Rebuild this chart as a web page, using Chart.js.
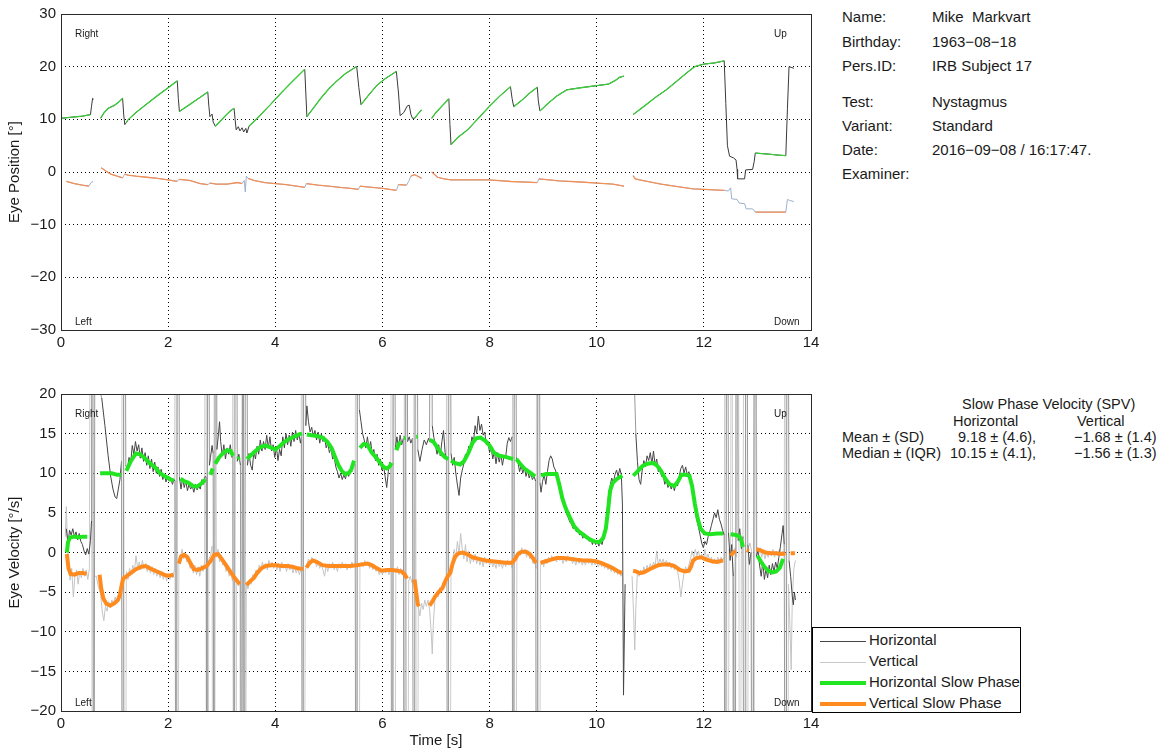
<!DOCTYPE html>
<html>
<head>
<meta charset="utf-8">
<title>Nystagmus – Eye Position and Eye Velocity</title>
<script src="https://cdn.jsdelivr.net/npm/chart.js@4.4.1/dist/chart.umd.min.js"></script>
<style>
  html, body { margin: 0; padding: 0; background: #fff; }
  body { position: relative; width: 1165px; height: 751px; overflow: hidden;
         font-family: "Liberation Sans", Arial, sans-serif; color: #1a1a1a; }
  canvas { position: absolute; left: 0; }
  .info { position: absolute; font-size: 15px; line-height: 18px; white-space: nowrap; }
  .spv { position: absolute; font-size: 14.5px; line-height: 16px; white-space: nowrap; }
  .legend { position: absolute; left: 812px; top: 627px; width: 209px; height: 86px;
            border: 1px solid #000; background: #fff; font-size: 15px; box-sizing: border-box; }
  .legend .row { position: absolute; left: 7px; height: 21px; line-height: 21px; white-space: nowrap; }
  .legend .swatch { display: inline-block; width: 46px; vertical-align: middle; margin-right: 3px; }
</style>
</head>
<body>
<canvas id="posChart" width="830" height="360" style="top:0"></canvas>
<canvas id="velChart" width="830" height="379" style="top:372px"></canvas>

<div class="info" style="left:842px;top:8px">Name:</div>
<div class="info" style="left:932px;top:8px">Mike&nbsp; Markvart</div>
<div class="info" style="left:842px;top:33px">Birthday:</div>
<div class="info" style="left:932px;top:33px">1963−08−18</div>
<div class="info" style="left:842px;top:57px">Pers.ID:</div>
<div class="info" style="left:932px;top:57px">IRB Subject 17</div>
<div class="info" style="left:842px;top:93px">Test:</div>
<div class="info" style="left:932px;top:93px">Nystagmus</div>
<div class="info" style="left:842px;top:117px">Variant:</div>
<div class="info" style="left:932px;top:117px">Standard</div>
<div class="info" style="left:842px;top:141px">Date:</div>
<div class="info" style="left:932px;top:141px">2016−09−08 / 16:17:47.</div>
<div class="info" style="left:842px;top:165px">Examiner:</div>

<div class="spv" style="left:962px;top:396px">Slow Phase Velocity (SPV)</div>
<div class="spv" style="left:953px;top:413px">Horizontal</div>
<div class="spv" style="left:1077px;top:413px">Vertical</div>
<div class="spv" style="left:842px;top:429px">Mean ± (SD)</div>
<div class="spv" style="left:958px;top:429px">9.18 ± (4.6),</div>
<div class="spv" style="left:1074px;top:429px">−1.68 ± (1.4)</div>
<div class="spv" style="left:842px;top:445px">Median ± (IQR)</div>
<div class="spv" style="left:950px;top:445px">10.15 ± (4.1),</div>
<div class="spv" style="left:1074px;top:445px">−1.56 ± (1.3)</div>

<div class="legend">
  <div class="row" style="top:1px"><span class="swatch" style="border-top:1px solid #444"></span>Horizontal</div>
  <div class="row" style="top:22px"><span class="swatch" style="border-top:1px solid #c8c8c8"></span>Vertical</div>
  <div class="row" style="top:43px"><span class="swatch" style="border-top:4px solid #22e522"></span>Horizontal Slow Phase</div>
  <div class="row" style="top:64px"><span class="swatch" style="border-top:4px solid #ff8a1e"></span>Vertical Slow Phase</div>
</div>

<script>
// ---- axis ticks -------------------------------------------------------------
const timeTicks = [0, 2, 4, 6, 8, 10, 12, 14];
const positionTicks = [-30, -20, -10, 0, 10, 20, 30];
const velocityTicks = [-20, -15, -10, -5, 0, 5, 10, 15, 20];

// ---- eye position [deg], pairs of [time s, value]; null = recording gap ----
const posHorizontal = [
  [0.00,10.2],[0.20,10.4],[0.40,10.6],[0.55,10.9],[0.57,12.5],[0.59,14.0],[0.61,13.8], null,
  [0.74,10.2],[0.80,11.2],[0.88,12.1],[0.99,12.6],[1.08,13.3],[1.15,14.0],[1.17,11.0],[1.19,9.0],
  [1.22,9.4],[1.25,9.9],[1.40,11.3],[1.60,12.9],[1.80,14.5],[2.00,16.0],[2.17,17.3],[2.19,14.0],
  [2.21,11.5],[2.40,12.8],[2.60,14.2],[2.74,15.2],[2.76,12.5],[2.78,10.5],[2.82,11.0],[2.84,9.5],
  [2.88,8.7],[2.95,9.4],[3.05,10.5],[3.15,11.5],[3.23,12.1],[3.25,10.0],[3.27,8.0],[3.31,8.6],
  [3.34,7.8],[3.38,8.4],[3.41,7.6],[3.45,8.3],[3.47,7.4],[3.51,8.7],[3.70,10.6],[3.90,12.7],
  [4.10,14.9],[4.30,17.0],[4.55,19.5],[4.57,15.0],[4.59,10.5],[4.70,12.0],[4.85,14.0],[5.00,15.8],
  [5.15,17.3],[5.30,18.6],[5.45,19.6],[5.52,20.0],[5.56,16.0],[5.60,12.8],[5.75,14.7],[5.90,16.5],
  [6.05,17.7],[6.20,18.7],[6.26,19.1],[6.30,15.0],[6.33,10.7],[6.40,11.3],[6.46,12.5],[6.50,12.7],
  [6.53,11.0],[6.56,10.2],[6.60,10.2],[6.66,11.0],[6.73,11.8], null,
  [6.92,10.2],[7.00,11.3],[7.10,12.4],[7.24,13.9],[7.26,9.0],[7.28,5.2],[7.40,6.5],[7.59,8.0],
  [7.80,10.3],[7.99,12.4],[8.20,14.5],[8.39,16.2],[8.42,14.0],[8.45,12.4],[8.60,13.6],[8.75,15.0],
  [8.89,16.1],[8.91,13.5],[8.94,11.6],[9.10,13.1],[9.25,14.4],[9.44,15.6],[9.70,16.0],[10.00,16.4],
  [10.22,16.7],[10.35,17.4],[10.43,18.0],[10.51,18.2], null,
  [10.68,10.9],[10.90,12.6],[11.10,14.2],[11.30,15.6],[11.50,17.3],[11.70,19.0],[11.83,20.0],
  [12.00,20.5],[12.20,20.7],[12.38,21.1],[12.41,13.0],[12.44,5.0],[12.48,3.0],[12.55,2.7],[12.60,2.3],
  [12.62,0.5],[12.63,-1.3],[12.76,-1.3],[12.78,0.4],[12.91,0.5],[12.94,2.0],[12.96,3.6],[13.20,3.4],
  [13.40,3.2],[13.53,3.1],[13.56,12.0],[13.59,20.0],[13.68,19.7]
];
const posHorizontalSlow = [
  [0.00,10.2],[0.20,10.4],[0.40,10.6],[0.55,10.9], null,
  [0.74,10.2],[0.80,11.2],[0.88,12.1],[0.99,12.6],[1.08,13.3],[1.15,14.0], null,
  [1.22,9.4],[1.25,9.9],[1.40,11.3],[1.60,12.9],[1.80,14.5],[2.00,16.0],[2.17,17.3], null,
  [2.21,11.5],[2.40,12.8],[2.60,14.2],[2.74,15.2], null,
  [2.88,8.7],[2.95,9.4],[3.05,10.5],[3.15,11.5],[3.23,12.1], null,
  [3.51,8.7],[3.70,10.6],[3.90,12.7],[4.10,14.9],[4.30,17.0],[4.55,19.5], null,
  [4.59,10.5],[4.70,12.0],[4.85,14.0],[5.00,15.8],[5.15,17.3],[5.30,18.6],[5.45,19.6],[5.52,20.0], null,
  [5.60,12.8],[5.75,14.7],[5.90,16.5],[6.05,17.7],[6.20,18.7],[6.26,19.1], null,
  [6.60,10.2],[6.66,11.0],[6.73,11.8], null,
  [6.92,10.2],[7.00,11.3],[7.10,12.4],[7.24,13.9], null,
  [7.28,5.2],[7.40,6.5],[7.59,8.0],[7.80,10.3],[7.99,12.4],[8.20,14.5],[8.39,16.2], null,
  [8.45,12.4],[8.60,13.6],[8.75,15.0],[8.89,16.1], null,
  [8.94,11.6],[9.10,13.1],[9.25,14.4],[9.44,15.6],[9.70,16.0],[10.00,16.4],[10.22,16.7],[10.35,17.4],
  [10.43,18.0],[10.51,18.2], null,
  [10.68,10.9],[10.90,12.6],[11.10,14.2],[11.30,15.6],[11.50,17.3],[11.70,19.0],[11.83,20.0],
  [12.00,20.5],[12.20,20.7],[12.38,21.1], null,
  [12.96,3.6],[13.20,3.4],[13.40,3.2],[13.53,3.1]
];
const posVertical = [
  [0.10,-1.8],[0.25,-2.2],[0.40,-2.5],[0.52,-2.7],[0.56,-2.0],[0.60,-1.8], null,
  [0.75,0.8],[0.85,0.1],[0.93,-0.4],[1.05,-0.8],[1.15,-1.1],[1.19,-0.4],[1.25,-0.6],[1.40,-0.8],
  [1.60,-1.0],[1.80,-1.2],[2.00,-1.5],[2.17,-1.8],[2.20,-1.4],[2.40,-1.6],[2.60,-2.2],[2.74,-2.4],
  [2.78,-2.1],[2.90,-2.3],[3.10,-2.3],[3.30,-2.0],[3.38,-2.2],[3.42,-1.6],[3.44,-3.8],[3.46,-0.8],
  [3.49,-1.2],[3.60,-1.6],[3.80,-2.0],[4.00,-2.2],[4.20,-2.4],[4.40,-2.7],[4.55,-2.9],[4.58,-2.2],
  [4.80,-2.5],[5.00,-2.7],[5.20,-2.9],[5.40,-3.1],[5.55,-3.3],[5.58,-2.7],[5.80,-2.9],[6.00,-3.1],
  [6.20,-3.4],[6.26,-3.5],[6.30,-2.4],[6.45,-2.5],[6.49,-1.8],[6.53,-0.8],[6.60,-0.5],[6.66,-0.8],
  [6.73,-1.2], null,
  [6.92,0.0],[7.03,-1.0],[7.15,-1.3],[7.28,-1.5],[7.60,-1.5],[7.99,-1.5],[8.40,-1.8],[8.89,-2.0],
  [8.92,-1.3],[9.30,-1.7],[9.70,-1.9],[10.00,-2.1],[10.30,-2.3],[10.51,-2.7], null,
  [10.68,-0.7],[10.72,-1.3],[10.80,-1.5],[11.20,-2.3],[11.60,-2.9],[11.80,-3.2],[12.00,-3.3],
  [12.38,-3.5],[12.46,-3.6],[12.50,-3.0],[12.52,-5.1],[12.62,-5.2],[12.66,-5.9],[12.76,-6.0],
  [12.79,-7.0],[12.91,-7.0],[12.96,-7.6],[13.53,-7.6],[13.56,-5.2],[13.60,-5.4],[13.68,-5.6]
];
const posVerticalSlow = [
  [0.10,-1.8],[0.25,-2.2],[0.40,-2.5],[0.52,-2.7], null,
  [0.75,0.8],[0.85,0.1],[0.93,-0.4],[1.05,-0.8],[1.15,-1.1], null,
  [1.19,-0.4],[1.25,-0.6],[1.40,-0.8],[1.60,-1.0],[1.80,-1.2],[2.00,-1.5],[2.17,-1.8], null,
  [2.20,-1.4],[2.40,-1.6],[2.60,-2.2],[2.74,-2.4], null,
  [2.78,-2.1],[2.90,-2.3],[3.10,-2.3],[3.30,-2.0],[3.38,-2.2], null,
  [3.49,-1.2],[3.60,-1.6],[3.80,-2.0],[4.00,-2.2],[4.20,-2.4],[4.40,-2.7],[4.55,-2.9], null,
  [4.58,-2.2],[4.80,-2.5],[5.00,-2.7],[5.20,-2.9],[5.40,-3.1],[5.55,-3.3], null,
  [5.58,-2.7],[5.80,-2.9],[6.00,-3.1],[6.20,-3.4],[6.26,-3.5], null,
  [6.30,-2.4],[6.45,-2.5], null,
  [6.53,-0.8],[6.60,-0.5],[6.66,-0.8],[6.73,-1.2], null,
  [6.92,0.0],[7.03,-1.0],[7.15,-1.3],[7.28,-1.5],[7.60,-1.5],[7.99,-1.5],[8.40,-1.8],[8.89,-2.0], null,
  [8.92,-1.3],[9.30,-1.7],[9.70,-1.9],[10.00,-2.1],[10.30,-2.3],[10.51,-2.7], null,
  [10.68,-0.7],[10.72,-1.3],[10.80,-1.5],[11.20,-2.3],[11.60,-2.9],[11.80,-3.2],[12.00,-3.3],[12.38,-3.5], null,
  [12.96,-7.6],[13.53,-7.6]
];

// ---- eye velocity [deg/s] ---------------------------------------------------
const velHorizontal = [
  [0.10,3.0],[0.13,1.2],[0.16,2.8],[0.19,2.2],[0.22,3.0],[0.25,2.0],[0.28,2.6],[0.31,1.6],
  [0.34,2.4],[0.37,1.4],[0.40,1.0],[0.43,0.2],[0.46,-0.3],[0.49,0.5],[0.52,-0.2],[0.55,1.5],
  [0.57,4.0],[0.59,80],[0.61,-80],[0.63,22],[0.70,21],[0.76,19.5],[0.82,16],[0.88,12.2],
  [0.93,9.5],[0.97,8.0],[1.01,7.0],[1.04,6.8],[1.07,8.0],[1.10,9.2],[1.13,11.5],[1.15,-80],
  [1.18,80],[1.21,11],[1.24,10.5],[1.27,12.0],[1.30,11.2],[1.33,13.5],[1.36,12.4],[1.39,14.0],
  [1.42,12.8],[1.45,13.6],[1.48,11.9],[1.51,13.2],[1.54,11.5],[1.57,12.6],[1.60,11.0],[1.63,12.2],
  [1.66,10.6],[1.69,11.8],[1.72,10.2],[1.75,11.4],[1.78,10.0],[1.81,10.8],[1.84,9.6],[1.87,10.5],
  [1.90,9.2],[1.93,9.9],[1.96,8.9],[1.99,9.6],[2.02,9.0],[2.05,9.4],[2.08,8.6],[2.11,9.2],
  [2.13,9.0],[2.15,-80],[2.18,80],[2.21,9.5],[2.24,8.0],[2.27,9.4],[2.30,8.2],[2.33,9.0],
  [2.36,7.8],[2.39,8.6],[2.42,8.0],[2.45,8.4],[2.48,7.6],[2.51,8.6],[2.54,7.9],[2.57,8.4],
  [2.60,8.0],[2.63,9.2],[2.66,8.6],[2.69,9.6],[2.71,9.5],[2.72,-80],[2.745,80],[2.77,11],
  [2.79,12.0],[2.82,13.5],[2.84,12.5],[2.86,-80],[2.885,80],[2.91,13.0],[2.94,15.0],[2.96,16.5],
  [2.98,14.0],[3.01,12.2],[3.04,13.6],[3.07,11.8],[3.10,13.2],[3.13,12.4],[3.16,13.6],[3.19,12.0],
  [3.21,12.5],[3.23,-80],[3.26,80],[3.29,11.5],[3.32,12.4],[3.35,11.0],[3.37,-80],[3.40,80],
  [3.42,-80],[3.45,80],[3.48,11.0],[3.51,12.5],[3.54,11.0],[3.57,10.4],[3.60,12.8],[3.63,11.8],
  [3.66,13.4],[3.69,12.4],[3.72,14.2],[3.75,12.8],[3.78,14.0],[3.81,13.0],[3.84,14.8],[3.87,13.2],
  [3.90,14.6],[3.93,12.8],[3.96,13.6],[3.99,12.0],[4.02,13.4],[4.05,11.6],[4.08,13.0],[4.11,12.2],
  [4.14,14.6],[4.17,13.2],[4.20,15.0],[4.23,13.6],[4.26,14.8],[4.29,13.4],[4.32,15.2],[4.35,14.0],
  [4.38,15.4],[4.41,14.2],[4.44,15.0],[4.47,13.8],[4.49,14.6],[4.51,-80],[4.54,80],[4.57,16.0],
  [4.59,18.5],[4.62,16.5],[4.65,15.2],[4.68,15.8],[4.71,14.6],[4.74,15.4],[4.77,14.2],[4.80,15.2],
  [4.83,13.8],[4.86,15.0],[4.89,14.0],[4.92,14.6],[4.95,13.2],[4.98,13.8],[5.01,12.6],[5.04,13.2],
  [5.07,11.8],[5.10,12.0],[5.13,10.8],[5.16,10.2],[5.19,9.4],[5.22,10.0],[5.25,9.2],[5.28,9.8],
  [5.31,9.3],[5.34,10.2],[5.37,9.6],[5.40,10.4],[5.43,10.2],[5.46,11.5],[5.49,11.0],[5.51,-80],
  [5.545,80],[5.57,18.0],[5.60,16.5],[5.63,15.0],[5.66,14.2],[5.69,13.2],[5.72,14.6],[5.75,13.0],
  [5.78,14.0],[5.81,12.4],[5.84,13.0],[5.87,11.6],[5.90,12.4],[5.93,11.0],[5.96,11.8],[5.99,10.4],
  [6.02,11.0],[6.05,9.6],[6.08,8.2],[6.11,10.2],[6.14,11.4],[6.16,10.8],[6.18,-80],[6.21,80],
  [6.24,13.0],[6.27,14.6],[6.30,13.2],[6.33,14.8],[6.36,13.6],[6.39,14.4],[6.41,-80],[6.44,80],
  [6.47,14.0],[6.50,14.6],[6.53,13.8],[6.56,14.4],[6.59,-80],[6.62,80],[6.66,13.0],[6.70,11.5],
  [6.74,13.0],[6.78,14.2],[6.82,13.6],[6.86,14.4],[6.88,14.0],[6.90,80],[6.93,16.0],[6.96,14.5],
  [6.99,13.5],[7.02,12.4],[7.05,13.6],[7.08,12.2],[7.11,14.0],[7.14,15.4],[7.17,12.6],[7.20,11.6],
  [7.22,-80],[7.25,80],[7.28,12.5],[7.31,11.0],[7.34,12.0],[7.37,10.0],[7.40,8.5],[7.43,7.2],
  [7.46,9.4],[7.49,10.4],[7.52,11.2],[7.55,12.4],[7.58,12.0],[7.61,13.4],[7.64,13.0],[7.67,14.6],
  [7.70,14.0],[7.73,16.0],[7.76,15.0],[7.79,17.2],[7.82,15.4],[7.85,16.2],[7.88,14.8],[7.91,15.2],
  [7.94,13.6],[7.97,14.0],[8.00,12.6],[8.03,13.2],[8.06,11.8],[8.09,12.8],[8.12,11.2],[8.15,12.6],
  [8.18,11.4],[8.21,12.4],[8.24,11.0],[8.27,12.2],[8.30,12.0],[8.33,13.8],[8.36,14.5],[8.39,14.0],
  [8.42,14.6],[8.44,-80],[8.47,80],[8.50,12.0],[8.53,11.4],[8.56,10.2],[8.59,11.0],[8.62,10.0],
  [8.65,10.8],[8.68,9.6],[8.71,10.4],[8.74,9.4],[8.77,10.0],[8.80,9.2],[8.83,9.6],[8.86,9.0],
  [8.88,-80],[8.91,80],[8.94,8.8],[8.96,7.6],[8.99,9.0],[9.02,9.8],[9.05,8.6],[9.08,10.2],
  [9.11,11.6],[9.14,12.2],[9.17,11.8],[9.20,10.8],[9.23,10.4],[9.26,9.6],[9.29,8.8],[9.32,7.6],
  [9.35,6.6],[9.38,6.0],[9.41,5.6],[9.44,4.8],[9.47,4.4],[9.50,3.8],[9.53,3.6],[9.56,3.0],
  [9.59,3.2],[9.62,2.6],[9.65,2.9],[9.68,2.2],[9.71,2.6],[9.74,1.8],[9.77,2.4],[9.80,1.8],
  [9.83,2.0],[9.86,1.4],[9.89,1.8],[9.92,1.0],[9.95,1.6],[9.98,1.0],[10.01,1.4],[10.04,0.8],
  [10.07,1.6],[10.10,1.0],[10.13,2.0],[10.16,3.2],[10.19,5.0],[10.22,7.2],[10.25,8.4],[10.28,9.4],
  [10.31,8.8],[10.34,9.8],[10.37,10.4],[10.40,9.6],[10.43,10.6],[10.46,9.8],[10.48,6.0],
  [10.50,-18.0],[10.53,-4.0], null,
  [10.66,40],[10.70,22],[10.73,15.0],[10.76,11.5],[10.79,9.2],[10.82,8.6],[10.85,10.4],[10.88,11.6],
  [10.91,10.8],[10.94,12.2],[10.97,11.6],[11.00,12.6],[11.03,11.2],[11.06,12.8],[11.09,11.0],
  [11.12,11.8],[11.15,10.2],[11.18,10.8],[11.21,9.6],[11.24,9.8],[11.27,8.6],[11.30,9.2],[11.33,8.2],
  [11.36,8.8],[11.39,8.0],[11.42,8.6],[11.45,7.8],[11.48,8.8],[11.51,8.4],[11.54,9.6],[11.57,10.6],
  [11.60,11.0],[11.63,10.0],[11.66,10.8],[11.69,9.8],[11.72,10.2],[11.75,9.4],[11.78,8.2],[11.81,6.4],
  [11.84,5.2],[11.87,4.0],[11.90,3.2],[11.93,2.2],[11.96,1.2],[11.99,0.6],[12.02,1.4],[12.05,1.0],
  [12.08,2.0],[12.11,2.6],[12.14,3.4],[12.17,4.2],[12.20,5.0],[12.23,4.4],[12.26,5.4],[12.29,4.2],
  [12.32,3.6],[12.35,2.8],[12.38,2.2],[12.40,-80],[12.43,80],[12.46,2.5],[12.49,-1.0],[12.52,1.0],
  [12.55,-3.0],[12.58,-80],[12.61,80],[12.64,1.5],[12.67,3.0],[12.70,0.5],[12.73,2.0],[12.76,-80],
  [12.79,80],[12.82,1.0],[12.85,-1.5],[12.88,0.0],[12.91,-80],[12.95,80],[12.98,-0.5],[13.01,0.2],
  [13.04,-1.6],[13.07,-3.0],[13.10,-1.2],[13.13,-3.4],[13.16,-2.0],[13.19,-3.2],[13.22,-1.6],
  [13.25,-2.8],[13.28,-1.4],[13.31,-2.4],[13.34,-1.2],[13.37,-2.0],[13.40,-0.6],[13.43,0.8],
  [13.46,2.4],[13.48,3.4],[13.50,1.0],[13.53,-80],[13.56,80],[13.59,-1.0],[13.62,-3.0],[13.65,-5.5],
  [13.67,-6.6],[13.69,-5.0],[13.71,-6.0]
];
const velVertical = [
  [0.08,2.0],[0.10,5.8],[0.12,1.0],[0.14,-1.5],[0.17,-3.5],[0.20,-2.0],[0.23,-5.6],[0.26,-3.0],
  [0.29,-2.2],[0.32,-4.0],[0.35,-2.4],[0.38,-3.2],[0.41,-2.0],[0.44,-3.0],[0.47,-2.2],[0.50,-3.4],
  [0.53,-2.0],[0.56,80],[0.59,-80],[0.62,-3.0],[0.66,-3.0],[0.70,-4.4],[0.74,-5.2],[0.77,-7.5],
  [0.80,-8.6],[0.83,-6.8],[0.86,-7.4],[0.89,-6.2],[0.92,-7.0],[0.95,-6.0],[0.98,-6.6],[1.01,-5.6],
  [1.04,-6.2],[1.07,-5.2],[1.10,-4.6],[1.13,-3.6],[1.16,80],[1.19,-80],[1.22,-2.4],[1.25,-3.4],
  [1.28,-2.0],[1.31,-2.8],[1.34,-1.6],[1.37,-2.4],[1.40,-0.4],[1.43,-2.0],[1.46,-1.2],[1.49,-2.2],
  [1.52,-1.0],[1.55,-2.0],[1.58,-1.4],[1.61,-2.4],[1.64,-1.6],[1.67,-2.6],[1.70,-1.8],[1.73,-2.8],
  [1.76,-2.0],[1.79,-3.0],[1.82,-2.2],[1.85,-3.2],[1.88,-2.4],[1.91,-3.4],[1.94,-2.6],[1.97,-3.6],
  [2.00,-2.8],[2.03,-3.4],[2.06,-2.6],[2.09,-3.2],[2.12,-2.0],[2.14,80],[2.17,-80],[2.20,-1.5],
  [2.23,-0.6],[2.26,0.4],[2.29,-0.8],[2.32,-0.2],[2.35,-1.2],[2.38,-0.8],[2.41,-2.0],[2.44,-1.4],
  [2.47,-2.6],[2.50,-1.6],[2.53,-2.8],[2.56,-1.8],[2.59,-3.0],[2.62,-1.6],[2.65,-2.4],[2.68,-1.2],
  [2.70,80],[2.73,-80],[2.76,-0.8],[2.79,-0.4],[2.82,0.8],[2.84,-80],[2.87,80],[2.90,-0.6],
  [2.93,0.4],[2.96,-1.2],[2.99,-0.4],[3.02,-1.6],[3.05,-1.0],[3.08,-2.4],[3.11,-1.6],[3.14,-3.0],
  [3.17,-2.2],[3.20,-3.6],[3.22,80],[3.25,-80],[3.28,-3.4],[3.31,-4.2],[3.34,-3.6],[3.36,-80],
  [3.39,80],[3.43,-80],[3.46,-4.0],[3.49,-4.6],[3.52,-3.4],[3.55,-4.0],[3.58,-2.8],[3.61,-3.4],
  [3.64,-2.2],[3.67,-2.8],[3.70,-1.6],[3.73,-2.2],[3.76,-1.2],[3.79,-2.0],[3.82,-1.4],[3.85,-2.2],
  [3.88,-1.0],[3.91,-1.8],[3.94,-1.2],[3.97,-2.0],[4.00,-1.4],[4.03,-2.2],[4.06,-1.4],[4.09,-2.4],
  [4.12,-1.2],[4.15,-2.0],[4.18,-1.6],[4.21,-2.4],[4.24,-1.4],[4.27,-2.2],[4.30,-1.6],[4.33,-2.6],
  [4.36,-1.8],[4.39,-2.6],[4.42,-2.0],[4.45,-2.8],[4.48,-2.0],[4.50,80],[4.53,-80],[4.56,-2.2],
  [4.59,-1.6],[4.62,-0.8],[4.65,-1.4],[4.68,-0.6],[4.71,-1.2],[4.74,-0.8],[4.77,-1.8],[4.80,-1.2],
  [4.83,-2.0],[4.86,-1.4],[4.89,-2.2],[4.92,-3.0],[4.95,-1.6],[4.98,-2.4],[5.01,-1.4],[5.04,-2.0],
  [5.07,-1.2],[5.10,-2.2],[5.13,-1.6],[5.16,-2.4],[5.19,-1.4],[5.22,-2.0],[5.25,-1.2],[5.28,-1.8],
  [5.31,-1.4],[5.34,-2.2],[5.37,-1.6],[5.40,-2.0],[5.43,-1.2],[5.46,-1.8],[5.49,-1.4],[5.51,80],
  [5.55,-80],[5.58,-1.8],[5.61,-1.2],[5.64,-1.8],[5.67,-1.0],[5.70,-1.6],[5.73,-1.2],[5.76,-2.0],
  [5.79,-1.4],[5.82,-2.2],[5.85,-1.6],[5.88,-2.4],[5.91,-2.0],[5.94,-2.8],[5.97,-2.2],[6.00,-2.8],
  [6.03,-2.2],[6.06,-2.6],[6.09,-2.0],[6.12,-2.8],[6.15,-2.2],[6.19,80],[6.22,-80],[6.25,-2.4],
  [6.28,-1.8],[6.31,-2.8],[6.34,-2.0],[6.37,-2.8],[6.40,-2.4],[6.43,80],[6.46,-80],[6.49,-3.6],
  [6.52,-3.0],[6.55,-3.8],[6.58,-3.2],[6.61,80],[6.64,-80],[6.67,-6.8],[6.70,-8.0],[6.73,-6.4],
  [6.76,-7.2],[6.79,-6.0],[6.82,-6.8],[6.85,-6.0],[6.88,-7.2],[6.91,-10.0],[6.93,-12.8],[6.95,-9.0],
  [6.98,-6.0],[7.01,-5.2],[7.04,-5.6],[7.07,-4.4],[7.10,-5.0],[7.13,-3.8],[7.16,-4.2],[7.19,-3.0],
  [7.21,80],[7.25,-80],[7.28,-2.2],[7.31,-1.0],[7.34,0.4],[7.37,-0.6],[7.40,1.4],[7.43,-0.2],
  [7.46,2.4],[7.49,0.4],[7.52,-0.8],[7.55,1.0],[7.58,-1.2],[7.61,0.2],[7.64,-1.4],[7.67,-0.4],
  [7.70,-1.2],[7.73,-0.2],[7.76,-1.4],[7.79,-0.6],[7.82,-1.6],[7.85,-0.8],[7.88,-1.8],[7.91,-0.6],
  [7.94,-1.4],[7.97,-0.8],[8.00,-1.6],[8.03,-1.0],[8.06,-1.8],[8.09,-1.2],[8.12,-2.0],[8.15,-1.0],
  [8.18,-1.8],[8.21,-1.2],[8.24,-2.0],[8.27,-1.2],[8.30,-1.8],[8.33,-1.0],[8.36,-1.6],[8.39,-1.2],
  [8.42,-2.0],[8.45,80],[8.48,-80],[8.51,-0.6],[8.54,0.2],[8.57,-0.4],[8.60,0.6],[8.63,-0.2],
  [8.66,0.4],[8.69,-0.6],[8.72,0.2],[8.75,-0.8],[8.78,-0.4],[8.81,-1.4],[8.84,-1.0],[8.87,-2.0],
  [8.89,80],[8.92,-80],[8.95,-1.6],[8.98,-1.0],[9.01,-1.8],[9.04,-0.8],[9.07,-1.4],[9.10,-0.6],
  [9.13,-1.2],[9.16,-0.4],[9.19,-1.0],[9.22,-0.6],[9.25,-1.2],[9.28,-0.4],[9.31,-1.0],[9.34,-0.6],
  [9.37,-1.4],[9.40,-0.6],[9.43,-1.2],[9.46,-0.4],[9.49,-1.0],[9.52,-0.8],[9.55,-1.4],[9.58,-0.8],
  [9.61,-1.6],[9.64,-0.8],[9.67,-1.4],[9.70,-0.8],[9.73,-1.6],[9.76,-1.0],[9.79,-1.6],[9.82,-0.8],
  [9.85,-1.4],[9.88,-1.0],[9.91,-1.6],[9.94,-1.0],[9.97,-1.6],[10.00,-1.2],[10.03,-1.8],[10.06,-1.2],
  [10.09,-1.8],[10.12,-1.4],[10.15,-2.0],[10.18,-1.4],[10.21,-2.2],[10.24,-1.6],[10.27,-2.4],
  [10.30,-1.8],[10.33,-2.6],[10.36,-2.0],[10.39,-2.8],[10.42,-2.2],[10.45,-3.0],[10.48,-2.6], null,
  [10.66,-3.0],[10.69,-8.0],[10.71,-12.3],[10.73,-7.0],[10.76,-2.4],[10.79,-3.0],[10.82,-2.2],
  [10.85,-2.8],[10.88,-1.8],[10.91,-2.6],[10.94,-1.6],[10.97,-2.4],[11.00,-1.4],[11.03,-2.0],
  [11.06,-1.2],[11.09,-1.8],[11.12,0.2],[11.15,-1.6],[11.18,-0.8],[11.21,-1.4],[11.24,-0.8],
  [11.27,-1.6],[11.30,-1.0],[11.33,-1.8],[11.36,-1.2],[11.39,-2.0],[11.42,-1.4],[11.45,-2.2],
  [11.48,-1.6],[11.51,-2.4],[11.54,-3.6],[11.57,-5.6],[11.60,-4.0],[11.63,-2.6],[11.66,-1.8],
  [11.69,-2.4],[11.72,-1.6],[11.75,-0.8],[11.78,0.2],[11.81,-0.6],[11.84,0.4],[11.87,-0.4],
  [11.90,0.2],[11.93,-0.8],[11.96,-0.2],[11.99,-1.0],[12.02,0.4],[12.05,-0.8],[12.08,-0.2],
  [12.11,-1.2],[12.14,-0.6],[12.17,-1.4],[12.20,-0.8],[12.23,-1.4],[12.26,-0.6],[12.29,-1.2],
  [12.32,-0.6],[12.35,-1.0],[12.38,-0.6],[12.41,80],[12.44,-80],[12.47,0.4],[12.50,-0.4],[12.52,80],
  [12.55,-80],[12.58,0.6],[12.61,-0.6],[12.64,80],[12.67,-80],[12.70,0.2],[12.73,1.0],[12.77,80],
  [12.80,-80],[12.83,0.6],[12.86,1.2],[12.89,0.2],[12.93,-80],[12.96,80],[12.99,0.4],[13.02,-0.4],
  [13.05,0.6],[13.08,-0.6],[13.11,0.2],[13.14,-0.8],[13.17,0.0],[13.20,-0.6],[13.23,0.2],
  [13.26,-0.4],[13.29,0.4],[13.32,-0.6],[13.35,0.2],[13.38,-0.4],[13.41,0.4],[13.44,-0.2],
  [13.47,0.2],[13.50,-0.4],[13.52,80],[13.55,-80],[13.58,-4.0],[13.61,-10.0],[13.63,-14.8],
  [13.65,-6.0],[13.68,-2.0],[13.71,-1.0]
];
const velHorizontalSlow = [
  [0.11,0.0],[0.13,1.3],[0.17,1.9],[0.25,2.0],[0.32,1.9],[0.40,2.0],[0.49,2.0], null,
  [0.73,10.0],[0.85,10.0],[0.95,10.0],[1.05,9.8],[1.12,9.8], null,
  [1.22,10.3],[1.30,11.5],[1.40,12.5],[1.47,12.4],[1.55,12.0],[1.65,11.3],[1.75,10.8],[1.85,10.0],
  [1.95,9.6],[2.05,9.2],[2.11,9.1], null,
  [2.23,9.3],[2.30,9.0],[2.38,8.8],[2.46,8.4],[2.54,8.3],[2.62,8.7],[2.70,9.2], null,
  [2.79,9.8],[2.83,10.6], null,
  [2.88,11.2],[2.95,12.0],[3.02,12.5],[3.10,12.9],[3.17,12.8],[3.21,12.2], null,
  [3.30,11.8],[3.33,12.0], null,
  [3.47,11.8],[3.55,12.3],[3.63,12.8],[3.72,13.3],[3.81,13.5],[3.90,13.3],[4.00,13.0],[4.08,13.4],
  [4.16,13.9],[4.25,14.3],[4.35,14.6],[4.44,14.9],[4.50,15.0], null,
  [4.59,14.9],[4.68,14.8],[4.78,14.7],[4.88,14.5],[4.97,14.0],[5.05,13.2],[5.12,12.0],[5.18,11.0],
  [5.24,10.3],[5.30,9.9],[5.37,10.0],[5.42,10.5],[5.47,11.6], null,
  [5.58,13.2],[5.65,13.7],[5.72,13.6],[5.80,12.6],[5.88,12.0],[5.95,11.4],[6.02,10.8],[6.08,10.6],
  [6.14,10.9],[6.17,11.3], null,
  [6.26,12.9],[6.30,13.6],[6.34,14.0], null,
  [6.40,14.4],[6.43,14.5], null,
  [6.63,14.6],[6.66,14.6], null,
  [6.88,14.2],[6.95,14.0],[7.02,13.3],[7.10,12.5],[7.17,12.0],[7.23,11.8], null,
  [7.28,11.6],[7.35,11.3],[7.45,11.1],[7.52,11.5],[7.60,12.5],[7.68,13.8],[7.75,14.4],[7.83,14.5],
  [7.92,14.1],[8.00,13.5],[8.08,12.6],[8.18,12.2],[8.28,12.1],[8.38,11.9],[8.44,11.8], null,
  [8.50,11.8],[8.57,11.2],[8.65,10.6],[8.75,10.1],[8.85,9.6], null,
  [8.96,9.7],[9.05,9.9],[9.15,9.9],[9.25,9.9],[9.30,8.6],[9.36,6.8],[9.42,5.6],[9.50,4.4],[9.58,3.3],
  [9.66,2.7],[9.76,2.2],[9.86,1.7],[9.95,1.4],[10.05,1.3],[10.12,1.8],[10.17,3.0],[10.21,5.2],
  [10.25,7.8],[10.30,8.8],[10.38,9.3],[10.48,9.7], null,
  [10.68,9.7],[10.76,10.2],[10.85,10.9],[10.95,11.2],[11.05,11.3],[11.12,11.0],[11.20,10.3],
  [11.28,9.3],[11.36,8.6],[11.45,8.4],[11.52,9.0],[11.58,9.8],[11.66,9.8],[11.73,9.7],[11.78,8.4],
  [11.83,6.2],[11.88,4.4],[11.94,3.0],[12.02,2.4],[12.12,2.3],[12.25,2.4],[12.36,2.4], null,
  [12.50,2.3],[12.60,2.2],[12.67,2.0],[12.70,1.5],[12.73,0.7], null,
  [13.00,-0.4],[13.07,-1.2],[13.13,-1.8],[13.20,-2.3],[13.28,-2.5],[13.35,-2.4],[13.42,-1.9],[13.48,-0.8]
];
const velVerticalSlow = [
  [0.11,-0.2],[0.14,-2.0],[0.18,-2.7],[0.25,-2.8],[0.33,-2.6],[0.40,-2.6],[0.48,-2.7], null,
  [0.72,-2.8],[0.75,-4.5],[0.79,-5.8],[0.85,-6.5],[0.92,-6.7],[1.00,-6.4],[1.06,-6.0],[1.10,-5.4],
  [1.13,-4.2],[1.16,-3.3],[1.22,-3.0],[1.30,-2.6],[1.40,-2.1],[1.50,-1.8],[1.58,-1.7],[1.66,-2.0],
  [1.76,-2.3],[1.86,-2.6],[1.96,-2.9],[2.05,-2.9],[2.10,-2.8], null,
  [2.20,-1.4],[2.24,-0.5],[2.30,-0.3],[2.36,-0.6],[2.42,-1.4],[2.48,-2.1],[2.55,-2.2],[2.63,-2.0],
  [2.72,-1.7],[2.80,-1.0],[2.86,-0.3],[2.93,-0.2],[3.00,-0.8],[3.08,-1.6],[3.16,-2.4],[3.24,-3.2],
  [3.30,-3.7],[3.34,-4.0], null,
  [3.46,-4.1],[3.52,-3.7],[3.60,-3.2],[3.66,-2.6],[3.74,-2.0],[3.82,-1.7],[3.92,-1.6],[4.02,-1.6],
  [4.12,-1.7],[4.22,-1.7],[4.32,-1.8],[4.42,-2.0],[4.52,-2.1], null,
  [4.58,-1.9],[4.64,-1.3],[4.70,-1.0],[4.78,-1.2],[4.88,-1.6],[5.00,-1.7],[5.12,-1.7],[5.25,-1.7],
  [5.40,-1.7],[5.52,-1.6],[5.62,-1.5],[5.72,-1.4],[5.80,-1.6],[5.90,-2.0],[5.98,-2.3],[6.08,-2.2],
  [6.18,-2.2],[6.28,-2.3],[6.36,-2.4],[6.42,-2.8],[6.46,-3.3], null,
  [6.60,-3.4],[6.63,-5.0],[6.66,-6.5],[6.68,-6.8], null,
  [6.88,-6.7],[6.93,-6.2],[6.98,-5.6],[7.05,-5.0],[7.12,-4.5],[7.18,-3.5],[7.22,-3.0],[7.27,-2.5],
  [7.31,-1.4],[7.36,-0.5],[7.42,-0.1],[7.50,0.0],[7.58,-0.2],[7.68,-0.6],[7.80,-0.8],[7.92,-1.0],
  [8.05,-1.1],[8.18,-1.2],[8.30,-1.3],[8.42,-1.3],[8.48,-0.8],[8.53,-0.2],[8.60,0.1],[8.68,0.1],
  [8.75,-0.2],[8.82,-0.8],[8.87,-1.3], null,
  [8.95,-1.3],[9.05,-1.1],[9.15,-0.9],[9.25,-0.7],[9.38,-0.7],[9.50,-0.8],[9.62,-0.9],[9.75,-1.0],
  [9.88,-1.0],[9.98,-1.1],[10.08,-1.3],[10.18,-1.6],[10.28,-1.9],[10.38,-2.3],[10.47,-2.6], null,
  [10.68,-2.3],[10.74,-2.4],[10.80,-2.6],[10.88,-2.5],[10.96,-2.2],[11.05,-1.9],[11.15,-1.6],
  [11.25,-1.5],[11.35,-1.5],[11.45,-1.7],[11.55,-2.2],[11.65,-2.4],[11.72,-2.3],[11.76,-1.8],
  [11.80,-1.0],[11.86,-0.7],[11.95,-0.6],[12.05,-0.9],[12.15,-1.1],[12.25,-1.2],[12.36,-1.0], null,
  [12.50,-0.4],[12.55,0.0],[12.59,0.2], null,
  [12.80,0.3],[12.84,0.2], null,
  [12.98,0.4],[13.05,0.3],[13.15,0.0],[13.25,-0.1],[13.35,-0.1],[13.45,-0.2],[13.52,-0.1], null,
  [13.62,-0.1],[13.70,-0.1]
];

// Convert [t, v] pairs to Chart.js points; a null entry breaks the line.
function toPoints(pairs) {
  const out = [];
  let lastX = 0;
  for (const p of pairs) {
    if (p === null) { out.push({ x: lastX, y: null }); continue; }
    lastX = p[0];
    out.push({ x: p[0], y: p[1] });
  }
  return out;
}

const FONT = '"Liberation Sans", Arial, sans-serif';
Chart.defaults.font.family = FONT;
Chart.defaults.color = '#1a1a1a';

const minus = v => String(v).replace('-', '\u2212');

// Box around the plot area plus the direction labels in its corners.
const framePlugin = {
  id: 'plotFrame',
  afterDraw(chart) {
    const { ctx, chartArea: a } = chart;
    ctx.save();
    ctx.strokeStyle = '#2a2a2a';
    ctx.lineWidth = 1;
    ctx.strokeRect(Math.round(a.left) + 0.5, Math.round(a.top) + 0.5,
                   Math.round(a.right - a.left), Math.round(a.bottom - a.top));
    ctx.fillStyle = '#1a1a1a';
    ctx.font = '10px ' + FONT;
    ctx.textBaseline = 'alphabetic';
    ctx.textAlign = 'left';
    ctx.fillText('Right', a.left + 14, a.top + 23);
    ctx.fillText('Left', a.left + 14, a.bottom - 5);
    ctx.fillText('Up', a.right - 37, a.top + 23);
    ctx.fillText('Down', a.right - 37, a.bottom - 5);
    ctx.restore();
  }
};

// Saccade segments leave the axis range; they show as fainter strokes.
const saccadeColor = color => ({
  borderColor: c => (Math.abs(c.p0.parsed.y) > 20 || Math.abs(c.p1.parsed.y) > 20) ? color : undefined
});

function lineSet(pairs, color, width, order, spikeColor) {
  const ds = {
    data: toPoints(pairs),
    borderColor: color,
    borderWidth: width,
    pointRadius: 0,
    tension: 0,
    spanGaps: false,
    order: order
  };
  if (spikeColor) ds.segment = saccadeColor(spikeColor);
  return ds;
}

function makeScales(yMin, yMax, yTicks, yTitle, xTitle) {
  return {
    x: {
      type: 'linear', min: 0, max: 14,
      afterBuildTicks: s => { s.ticks = timeTicks.map(v => ({ value: v })); },
      afterFit: s => { s.height = xTitle ? 40 : 30; },
      grid: { color: '#000', lineWidth: 1, drawTicks: false },
      border: { display: false, dash: [1, 3] },
      ticks: { font: { size: 15 }, padding: 4, maxRotation: 0, autoSkip: false, color: '#1a1a1a' },
      title: xTitle ? { display: true, text: xTitle, font: { size: 15 }, padding: { top: 0, bottom: 1 }, color: '#1a1a1a' } : { display: false }
    },
    y: {
      type: 'linear', min: yMin, max: yMax,
      afterBuildTicks: s => { s.ticks = yTicks.map(v => ({ value: v })); },
      afterFit: s => { s.width = 61; },
      grid: { color: '#000', lineWidth: 1, drawTicks: false },
      border: { display: false, dash: [1, 3] },
      ticks: { font: { size: 15 }, padding: 5, autoSkip: false, callback: minus, color: '#1a1a1a' },
      title: { display: true, text: yTitle, font: { size: 15 }, padding: { top: 6, bottom: 0 }, color: '#1a1a1a' }
    }
  };
}

const commonOptions = {
  responsive: false,
  animation: false,
  devicePixelRatio: 1,
  events: [],
  plugins: { legend: { display: false }, tooltip: { enabled: false } }
};

new Chart(document.getElementById('posChart'), {
  type: 'line',
  data: {
    datasets: [
      lineSet(posHorizontalSlow, '#3ccc3c', 1.3, 0),
      lineSet(posVerticalSlow, '#f2905a', 1.3, 1),
      lineSet(posHorizontal, '#3a3a3a', 1, 2),
      lineSet(posVertical, '#9db0cc', 1, 3)
    ]
  },
  options: Object.assign({}, commonOptions, {
    layout: { padding: { top: 14, right: 19, left: 0, bottom: 0 } },
    scales: makeScales(-30, 30, positionTicks, 'Eye Position [°]', null)
  }),
  plugins: [framePlugin]
});

new Chart(document.getElementById('velChart'), {
  type: 'line',
  data: {
    datasets: [
      lineSet(velVerticalSlow, '#ff8a1e', 4, 0),
      lineSet(velHorizontalSlow, '#22e522', 4, 1),
      lineSet(velHorizontal, '#454545', 1, 2, '#9a9a9a'),
      lineSet(velVertical, '#c4c4c4', 1, 3, '#cdcdcd')
    ]
  },
  options: Object.assign({}, commonOptions, {
    layout: { padding: { top: 22, right: 19, left: 0, bottom: 0 } },
    scales: makeScales(-20, 20, velocityTicks, 'Eye Velocity [°/s]', 'Time [s]')
  }),
  plugins: [framePlugin]
});
</script>
</body>
</html>
